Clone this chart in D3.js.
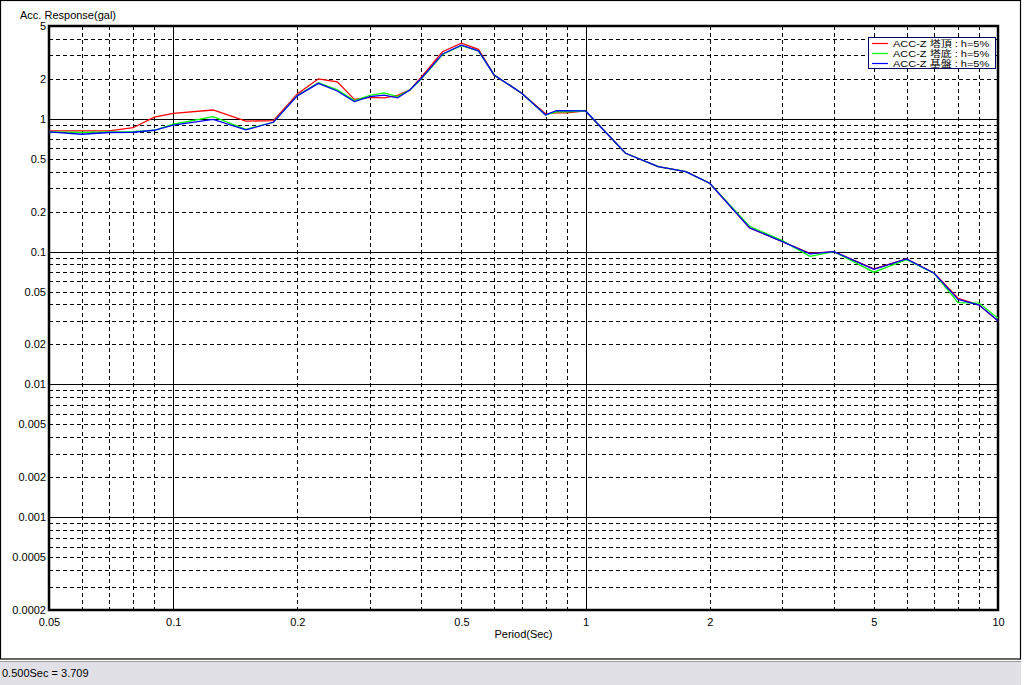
<!DOCTYPE html>
<html>
<head>
<meta charset="utf-8">
<script src="https://cdn.jsdelivr.net/npm/d3@7"></script>
<style>
html,body{margin:0;padding:0;background:#fff;}
svg text{font-family:"Liberation Sans","Noto Sans CJK JP",Arial,sans-serif;font-size:11px;fill:#000;}
</style>
</head>
<body>
<svg id="chart" width="1024" height="685"></svg>
<script>
// ---- data ----
const periods = [0.05,0.06,0.07,0.08,0.09,0.1,0.125,0.15,0.175,0.2,0.225,0.25,0.275,0.3,0.325,0.35,0.375,0.4,0.45,0.5,0.55,0.6,0.7,0.8,0.85,0.9,1.0,1.25,1.5,1.75,2.0,2.5,3.0,3.5,4.0,5.0,6.0,7.0,8.0,9.0,10.0];
const topValues = [0.81,0.81,0.81,0.857,1.03,1.10,1.165,0.96,0.97,1.54,2.0,1.90,1.40,1.45,1.44,1.50,1.65,2.07,3.20,3.709,3.34,2.14,1.56,1.09,1.11,1.11,1.146,0.55,0.436,0.40,0.327,0.151,0.119,0.097,0.100,0.074,0.088,0.069,0.0445,0.0396,0.030];
const bottomValues = [0.796,0.79,0.796,0.80,0.82,0.91,1.04,0.834,0.942,1.50,1.87,1.65,1.37,1.50,1.57,1.47,1.65,2.0,3.05,3.55,3.25,2.14,1.56,1.07,1.13,1.13,1.146,0.55,0.436,0.40,0.327,0.155,0.121,0.092,0.100,0.070,0.087,0.0687,0.0413,0.041,0.0315];
const baseValues = [0.796,0.765,0.789,0.792,0.82,0.898,0.99,0.825,0.942,1.49,1.85,1.62,1.35,1.47,1.51,1.44,1.65,2.02,3.08,3.59,3.25,2.14,1.56,1.07,1.15,1.15,1.146,0.55,0.436,0.40,0.327,0.151,0.119,0.096,0.100,0.0736,0.088,0.0687,0.0437,0.0396,0.0302];
const seriesNames = ["ACC-Z 塔頂 : h=5%","ACC-Z 塔底 : h=5%","ACC-Z 基盤 : h=5%"];
const seriesColors = ["#ff0000","#00ff00","#0000ff"];
const xTickLabels = [0.05,0.1,0.2,0.5,1,2,5,10];
const yTickLabels = [5,2,1,0.5,0.2,0.1,0.05,0.02,0.01,0.005,0.002,0.001,0.0005,0.0002];
const xMajorGrid = [0.1,1];
const xMinorGrid = [0.06,0.07,0.08,0.09,0.2,0.3,0.4,0.5,0.6,0.7,0.8,0.9,2,3,4,5,6,7,8,9];
const yMajorGrid = [1,0.1,0.01,0.001];
const yMinorGrid = [4,3,2,0.9,0.8,0.7,0.6,0.5,0.4,0.3,0.2,0.09,0.08,0.07,0.06,0.05,0.04,0.03,0.02,0.009,0.008,0.007,0.006,0.005,0.004,0.003,0.002,0.0009,0.0008,0.0007,0.0006,0.0005,0.0004,0.0003];
const titleText = "Acc. Response(gal)";
const xAxisTitle = "Period(Sec)";
const statusText = "0.500Sec = 3.709";

// ---- layout ----
const svg = d3.select("#chart");
const L = 49, R = 998, T = 26, B = 610;
const x = d3.scaleLog().domain([0.05,10]).range([L,R]);
const y = d3.scaleLog().domain([0.0002,5]).range([B,T]);
const px = v => Math.round(x(v)) + 0.5;
const py = v => Math.round(y(v)) + 0.5;

// window frame and status bar
svg.append("rect").attr("x",0).attr("y",0).attr("width",1024).attr("height",685).attr("fill","#fff");
svg.append("rect").attr("x",0).attr("y",661).attr("width",1021).attr("height",24).attr("fill","#e1e0e6");
svg.append("line").attr("x1",0).attr("x2",1021).attr("y1",661.5).attr("y2",661.5).attr("stroke","#9a9a9a");
svg.append("rect").attr("x",0.5).attr("y",0.5).attr("width",1020).attr("height",658.5)
  .attr("fill","none").attr("stroke","#000").attr("stroke-width",1.2);
svg.append("text").attr("x",2).attr("y",677).text(statusText);

// grid lines
const grid = svg.append("g");
grid.selectAll("line.xmin").data(xMinorGrid).join("line")
  .attr("x1",px).attr("x2",px).attr("y1",T).attr("y2",B)
  .attr("stroke","#000").attr("stroke-width",1).attr("stroke-dasharray","4,3");
grid.selectAll("line.ymin").data(yMinorGrid).join("line")
  .attr("y1",py).attr("y2",py).attr("x1",L).attr("x2",R)
  .attr("stroke","#000").attr("stroke-width",1).attr("stroke-dasharray","4,3");
grid.selectAll("line.xmaj").data(xMajorGrid).join("line")
  .attr("x1",px).attr("x2",px).attr("y1",T).attr("y2",B)
  .attr("stroke","#000").attr("stroke-width",1);
grid.selectAll("line.ymaj").data(yMajorGrid).join("line")
  .attr("y1",py).attr("y2",py).attr("x1",L).attr("x2",R)
  .attr("stroke","#000").attr("stroke-width",1);

// axes (labels via d3 axes)
const xAxis = d3.axisBottom(x).tickValues(xTickLabels).tickSize(0).tickPadding(8)
  .tickFormat(d => String(d));
const gx = svg.append("g").attr("transform",`translate(0,${B})`).call(xAxis);
gx.select(".domain").remove();
gx.attr("font-family",null).attr("font-size",null);
gx.selectAll("text").attr("fill","#000");

const yAxis = d3.axisLeft(y).tickValues(yTickLabels).tickSize(0).tickPadding(3)
  .tickFormat(d => String(d));
const gy = svg.append("g").attr("transform",`translate(${L},0)`).call(yAxis);
gy.select(".domain").remove();
gy.attr("font-family",null).attr("font-size",null);
gy.selectAll("text").attr("fill","#000");

// plot frame
svg.append("rect").attr("x",L).attr("y",T).attr("width",R-L).attr("height",B-T)
  .attr("fill","none").attr("stroke","#000").attr("stroke-width",2.5);

// titles
svg.append("text").attr("x",20).attr("y",19).text(titleText);
svg.append("text").attr("x",(L+R)/2).attr("y",638).attr("text-anchor","middle").text(xAxisTitle);

// series
const allSeries = [topValues,bottomValues,baseValues];
const line = d3.line().x(d => x(d[0])).y(d => y(d[1]));
const lines = svg.append("g");
allSeries.forEach((vals,i) => {
  lines.append("path").datum(periods.map((p,j) => [p,vals[j]]))
    .attr("d",line).attr("fill","none").attr("stroke",seriesColors[i]).attr("stroke-width",1.3);
});

// legend
const lg = svg.append("g");
lg.append("rect").attr("x",868.5).attr("y",37.5).attr("width",127).attr("height",31)
  .attr("fill","#fff").attr("stroke","#000060").attr("stroke-width",1);
seriesNames.forEach((name,i) => {
  const yy = 43.5 + i*10;
  lg.append("line").attr("x1",872).attr("x2",888).attr("y1",yy).attr("y2",yy)
    .attr("stroke",seriesColors[i]).attr("stroke-width",1.2);
  lg.append("text")
    .attr("transform",`translate(893,${yy + 3.6}) scale(1,0.78)`)
    .style("font-size","11px").text(name);
});
</script>
</body>
</html>
